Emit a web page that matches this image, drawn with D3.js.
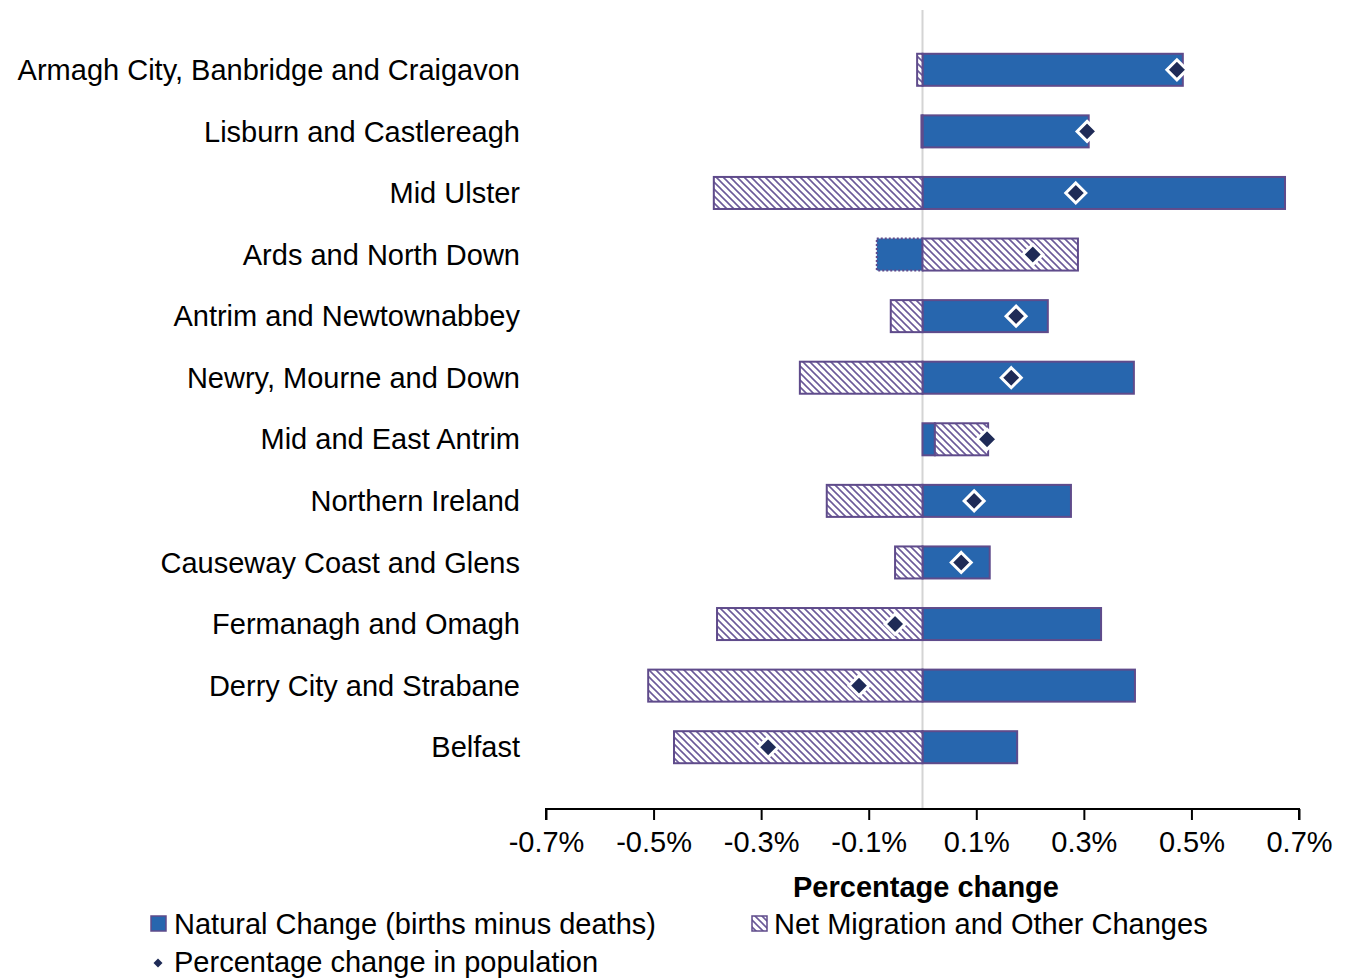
<!DOCTYPE html>
<html><head><meta charset="utf-8">
<script src="https://cdn.jsdelivr.net/npm/d3@7/dist/d3.min.js"></script>
<style>
body{margin:0;background:#fff;}
svg{display:block;font-family:"Liberation Sans",Arial,sans-serif;}
</style></head>
<body>
<svg id="chart" width="1345" height="978"></svg>
<script>
const categories = ["Armagh City, Banbridge and Craigavon","Lisburn and Castlereagh","Mid Ulster","Ards and North Down","Antrim and Newtownabbey","Newry, Mourne and Down","Mid and East Antrim","Northern Ireland","Causeway Coast and Glens","Fermanagh and Omagh","Derry City and Strabane","Belfast"];
const naturalChange = [0.484,0.309,0.674,-0.085,0.233,0.393,0.023,0.276,0.125,0.332,0.395,0.176];
const netMigration = [-0.010,-0.002,-0.388,0.289,-0.059,-0.228,0.099,-0.178,-0.051,-0.382,-0.510,-0.462];
const totalChange = [0.473,0.306,0.285,0.205,0.174,0.165,0.120,0.096,0.072,-0.051,-0.118,-0.287];
const tickValues = [-0.7,-0.5,-0.3,-0.1,0.1,0.3,0.5,0.7];
const seriesNames = ["Natural Change (births minus deaths)","Net Migration and Other Changes","Percentage change in population"];

const svg = d3.select("#chart");
const x = d3.scaleLinear().domain([-0.7,0.7]).range([546,1299]);
const y = d3.scaleBand().domain(categories).range([39,778]).paddingInner(0.48).paddingOuter(0.24);

const BLUE="#2766ae", PURPLE="#5f4b8b", NAVY="#1f2b57";
const FS = 29;

const defs = svg.append("defs");
const pat = defs.append("pattern").attr("id","hatch").attr("patternUnits","userSpaceOnUse")
  .attr("width",7).attr("height",7);
pat.append("rect").attr("width",7).attr("height",7).attr("fill","#fff");
pat.append("path").attr("d","M0,0 L7,7 M-3.5,3.5 L3.5,10.5 M3.5,-3.5 L10.5,3.5")
  .attr("stroke","#6b5a99").attr("stroke-width",1.6);

// zero line
svg.append("line").attr("x1",x(0)).attr("x2",x(0)).attr("y1",10).attr("y2",808)
  .attr("stroke","#d4d4d4").attr("stroke-width",2);

// stacked data
const data = categories.map((c,i)=>({cat:c, nat:naturalChange[i], mig:netMigration[i], tot:totalChange[i]}));
const stack = d3.stack().keys(["nat","mig"]).offset(d3.stackOffsetDiverging);
const stacked = stack(data);

const g = svg.append("g");
g.selectAll("rect.nat").data(stacked[0]).join("rect").attr("class","nat")
  .attr("x",d=>x(Math.min(d[0],d[1]))).attr("width",d=>Math.abs(x(d[1])-x(d[0])))
  .attr("y",d=>y(d.data.cat)).attr("height",y.bandwidth())
  .attr("fill",BLUE).attr("stroke",PURPLE).attr("stroke-width",2)
  .attr("stroke-dasharray",d=>d.data.nat<0?"2,2":null);
g.selectAll("rect.mig").data(stacked[1]).join("rect").attr("class","mig")
  .attr("x",d=>x(Math.min(d[0],d[1]))).attr("width",d=>Math.abs(x(d[1])-x(d[0])))
  .attr("y",d=>y(d.data.cat)).attr("height",y.bandwidth())
  .attr("fill","url(#hatch)").attr("stroke",PURPLE).attr("stroke-width",2);

const diamond = s=>`M0,${-s}L${s},0L0,${s}L${-s},0Z`;
g.selectAll("path.tot").data(data).join("path").attr("class","tot")
  .attr("transform",d=>`translate(${x(d.tot)},${y(d.cat)+y.bandwidth()/2})`)
  .attr("d",diamond(10)).attr("fill",NAVY).attr("stroke","#fff").attr("stroke-width",3);

svg.append("g").selectAll("text").data(categories).join("text")
  .attr("x",520).attr("y",d=>y(d)+y.bandwidth()/2).attr("dy","0.35em")
  .attr("text-anchor","end").attr("font-size",FS).attr("fill","#000").text(d=>d);

const xAxis = d3.axisBottom(x).tickValues(tickValues).tickSize(11).tickSizeOuter(11)
  .tickFormat(d=>d3.format(".1f")(d).replace("\u2212","-")+"%");
const ax = svg.append("g").attr("transform","translate(0,809)").call(xAxis);
ax.select(".domain").attr("stroke","#000").attr("stroke-width",2)
  .attr("d",`M${x(-0.7)},11V0H${x(0.7)}V11`);
ax.selectAll(".tick line").attr("stroke","#000").attr("stroke-width",2);
ax.selectAll(".tick text").attr("font-size",FS).attr("fill","#000").attr("dy","1.0em")
  .attr("font-family","'Liberation Sans',Arial,sans-serif");

svg.append("text").attr("x",926).attr("y",897).attr("text-anchor","middle")
  .attr("font-size",FS).attr("font-weight","bold").text("Percentage change");

const lg = svg.append("g");
lg.append("rect").attr("x",151).attr("y",916).attr("width",15).attr("height",15)
  .attr("fill",BLUE).attr("stroke",PURPLE).attr("stroke-width",1.5);
lg.append("text").attr("x",174).attr("y",924).attr("dy","0.35em").attr("font-size",FS).text(seriesNames[0]);
lg.append("rect").attr("x",752).attr("y",916).attr("width",15).attr("height",15)
  .attr("fill","url(#hatch)").attr("stroke",PURPLE).attr("stroke-width",1.5);
lg.append("text").attr("x",774).attr("y",924).attr("dy","0.35em").attr("font-size",FS).text(seriesNames[1]);
lg.append("path").attr("transform","translate(158,963)").attr("d",diamond(4.5)).attr("fill",NAVY);
lg.append("text").attr("x",174).attr("y",962).attr("dy","0.35em").attr("font-size",FS).text(seriesNames[2]);
</script>
</body></html>
